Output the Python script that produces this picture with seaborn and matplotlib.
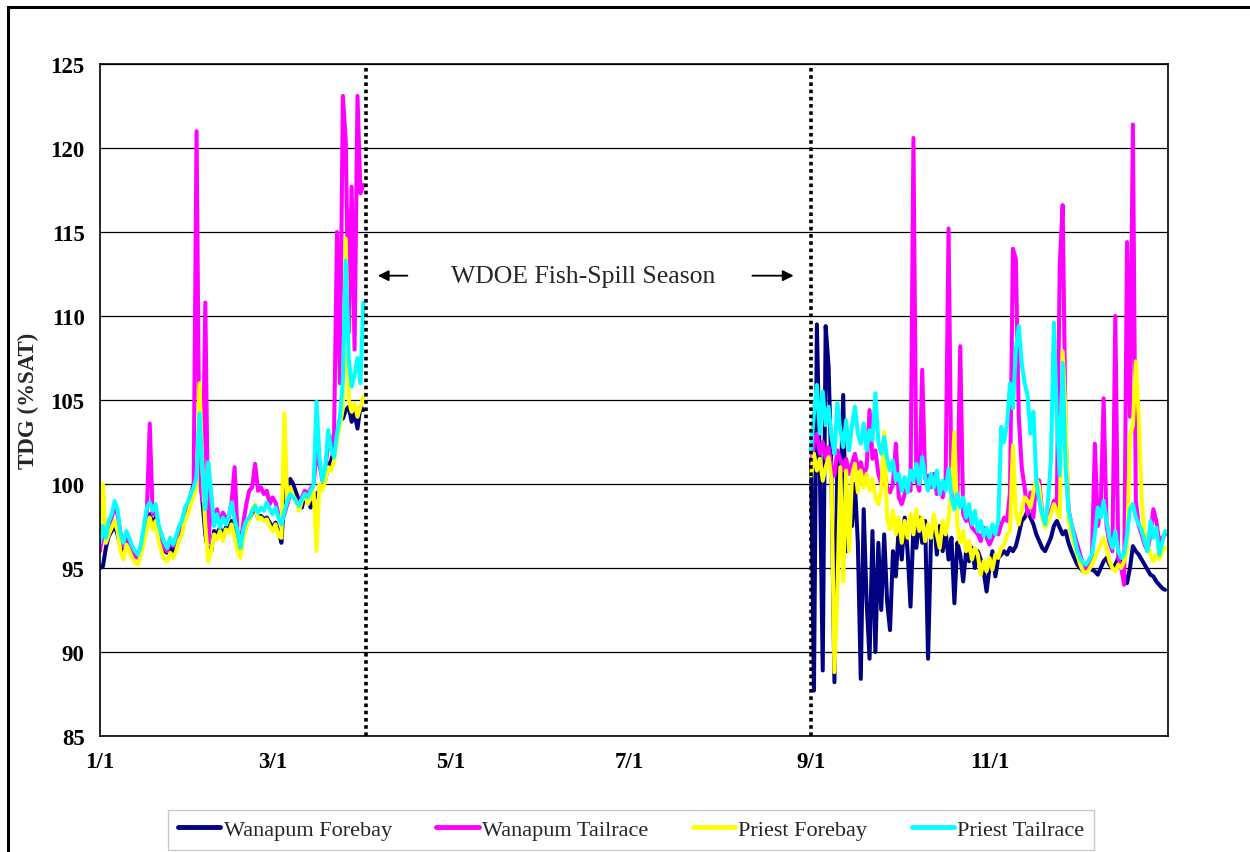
import matplotlib
matplotlib.use("Agg")
import matplotlib.pyplot as plt
import matplotlib.dates as mdates
from matplotlib.patches import Rectangle
import pandas as pd
import seaborn as sns

# ---------------------------------------------------------------- data
sites = ["Wanapum Forebay", "Wanapum Tailrace", "Priest Forebay", "Priest Tailrace"]
site_colors = ["#000080", "#FF00FF", "#FFFF00", "#00FFFF"]

winter_start = "2005-01-01"   # daily values, Jan 1 - Apr 1
fall_start = "2005-09-01"     # daily values, Sep 1 - Dec 31

wanapum_fb_winter = [
    95.0, 95.1, 96.2, 96.9, 97.2, 97.5, 97.0, 96.3, 96.0, 96.6,
    96.3, 96.0, 95.8, 95.7, 96.0, 96.8, 97.6, 98.2, 97.6, 98.0,
    97.0, 96.5, 96.0, 95.9, 96.3, 96.0, 96.4, 97.0, 97.4, 98.3,
    98.8, 99.3, 100.0, 100.2, 101.0, 99.0, 97.0, 96.0, 96.0, 97.2,
    97.0, 97.4, 96.9, 97.4, 97.3, 97.8, 97.2, 96.3, 95.8, 97.0,
    97.5, 97.9, 98.3, 98.6, 98.0, 98.1, 97.9, 98.0, 97.7, 97.4,
    97.7, 97.2, 96.5, 99.5, 99.8, 100.3, 100.0, 99.5, 99.0, 98.6,
    99.4, 99.0, 98.6, 99.0, 99.4, 99.6, 99.8, 100.3, 101.0, 101.4,
    102.0, 102.8, 103.8, 103.9, 104.4, 104.6, 103.7, 104.2, 103.3, 104.6,
    104.4,
]
wanapum_tr_winter = [
    96.0, 97.3, 96.5, 97.5, 98.0, 98.6, 98.2, 97.1, 96.3, 96.9,
    96.6, 96.0, 95.7, 95.6, 96.2, 97.2, 98.3, 103.6, 98.2, 98.5,
    97.3, 96.8, 96.2, 96.0, 96.6, 96.3, 96.7, 97.3, 97.7, 98.4,
    98.8, 99.2, 99.8, 121.0, 100.5, 99.0, 110.8, 96.5, 98.8, 97.8,
    98.5, 97.6, 98.3, 98.0, 98.0, 99.0, 101.0, 97.0, 96.4, 97.7,
    98.8, 99.6, 99.8, 101.2, 99.6, 99.8, 99.4, 99.6, 98.8, 99.2,
    98.9, 98.2, 97.7, 98.2, 98.8, 99.4, 99.3, 99.0, 98.8, 99.2,
    99.6, 99.4, 99.7, 100.0, 101.8, 101.2, 100.2, 100.9, 102.5, 102.3,
    103.0, 115.0, 106.0, 123.1, 120.4, 109.0, 117.7, 108.0, 123.1, 117.3,
    117.8,
]
priest_fb_winter = [
    97.5, 100.0, 96.5, 97.0, 97.4, 97.8, 97.2, 96.0, 95.5, 96.4,
    96.0, 95.6, 95.3, 95.2, 95.8, 96.5, 97.3, 98.0, 97.3, 97.8,
    96.6, 96.0, 95.5, 95.4, 95.9, 95.6, 96.0, 96.6, 97.0, 97.8,
    98.2, 98.8, 99.2, 99.8, 106.0, 101.0, 97.5, 95.4, 96.0, 97.0,
    96.7, 97.2, 96.6, 97.3, 97.1, 97.6, 96.8, 96.0, 95.6, 96.8,
    97.5, 97.8, 98.5, 98.8, 97.9, 98.0, 97.8, 97.9, 97.5, 97.2,
    97.6, 96.9, 96.8, 104.2, 99.0, 99.8, 99.3, 99.0, 98.4, 99.0,
    99.4, 98.8, 99.2, 99.6, 96.0, 100.0, 99.6, 100.2, 101.0, 100.8,
    101.4, 102.6, 103.5, 104.5, 114.6, 105.0, 104.3, 104.8, 104.0, 104.6,
    105.2,
]
priest_tr_winter = [
    96.5, 97.5, 96.8, 97.8, 98.2, 99.0, 98.5, 97.0, 96.5, 97.2,
    96.8, 96.3, 96.0, 95.8, 96.4, 97.5, 98.6, 98.9, 98.4, 98.8,
    97.6, 97.0, 96.5, 96.2, 96.8, 96.4, 96.9, 97.5, 97.8, 98.6,
    98.9, 99.4, 99.8, 100.4, 104.2, 100.8, 98.5, 101.3, 99.5, 97.5,
    98.2, 97.4, 98.0, 97.6, 98.1, 98.9, 97.9, 97.2, 96.2, 97.3,
    97.8, 98.0, 98.4, 98.7, 98.3, 98.6, 98.4, 98.9, 98.5, 98.2,
    98.6, 98.0, 97.6, 98.3, 99.0, 99.4, 99.2, 99.0, 98.7, 99.1,
    99.4, 99.2, 99.6, 99.9, 104.9, 101.5, 100.2, 101.0, 103.2, 102.0,
    101.6, 103.0, 104.0, 106.2, 113.3, 107.5, 105.8, 106.5, 107.5, 106.0,
    110.8,
]

wanapum_fb_fall = [
    101.5, 87.7, 109.5, 101.0, 88.9, 109.4, 107.0, 100.5, 88.2, 101.5,
    99.0, 105.3, 96.0, 99.0, 97.5, 100.0, 96.5, 88.4, 98.5, 93.0,
    89.6, 97.2, 90.0, 96.5, 92.5, 97.0, 93.0, 91.3, 96.0, 94.5,
    97.5, 95.5, 98.0, 96.0, 92.7, 97.5, 96.2, 98.0, 96.5, 97.8,
    89.6, 96.8, 98.0, 95.8, 97.5, 96.0, 97.2, 95.5, 96.8, 92.9,
    96.5, 95.8, 94.2, 96.0, 95.4, 96.2, 95.0, 96.0, 95.5, 94.8,
    93.6, 95.0, 96.0, 94.5, 95.6, 95.8, 96.0, 95.8, 96.2, 96.0,
    96.3, 97.0, 97.8, 98.0, 98.4, 98.0, 97.6, 97.0, 96.6, 96.2,
    96.0, 96.4, 96.8, 97.5, 97.8, 97.4, 97.0, 97.2, 96.5, 96.0,
    95.6, 95.2, 95.0, 94.8, 94.8, 95.0, 94.9, 94.8, 94.6, 95.0,
    95.4, 95.6, 95.2, 95.0, 95.2, 95.6, 95.4, 94.6, 94.1, 95.0,
    96.3, 96.0, 95.8, 95.5, 95.2, 94.9, 94.6, 94.5, 94.2, 94.0,
    93.8, 93.7,
]
wanapum_tr_fall = [
    101.0, 102.5, 103.0, 101.8, 102.5, 101.5, 102.2, 101.0, 100.5, 102.0,
    101.5, 100.8, 101.5, 100.6, 101.2, 101.8, 100.9, 101.3, 100.5, 101.0,
    104.4, 101.5, 102.0, 100.6, 100.0, 100.8, 99.8, 99.5, 100.0, 102.4,
    99.2, 98.8, 99.4, 100.0, 99.6, 120.6, 100.2, 99.6, 106.8, 100.3,
    100.5, 99.8, 100.6, 99.4, 100.0, 99.2, 100.2, 115.2, 99.5, 98.6,
    99.0, 108.2, 98.2, 97.8, 98.0, 97.4, 97.2, 97.0, 96.6, 97.4,
    96.8, 96.4, 96.8, 97.2, 97.0, 97.6, 98.0, 97.8, 99.5, 114.0,
    113.4, 104.0, 101.0, 99.8, 98.2, 99.5, 98.0, 100.3, 100.2, 98.2,
    97.6, 98.0, 98.4, 99.0, 98.6, 113.0, 116.6, 103.0, 98.5, 97.6,
    97.0, 96.4, 95.8, 95.2, 95.0, 95.4, 95.6, 102.4, 97.5, 98.5,
    105.1, 97.5, 96.5, 96.0, 110.0, 95.6, 95.0, 94.0, 114.4, 104.0,
    121.4, 99.0, 97.5, 97.0, 96.4, 96.0, 97.0, 98.5, 97.8, 96.5,
    96.8, 97.0,
]
priest_fb_fall = [
    100.5, 101.8, 100.8, 101.5, 100.2, 101.0, 101.6, 100.2, 88.8, 93.5,
    101.0, 94.2, 100.8, 96.0, 100.5, 101.2, 99.5, 100.8, 99.8, 100.6,
    99.6, 100.3, 99.2, 98.8, 99.6, 103.1, 98.0, 97.3, 98.4, 97.0,
    98.0, 96.5, 97.8, 96.8, 98.2, 97.0, 98.5, 97.2, 98.0, 96.6,
    97.6, 96.8, 98.2, 97.0, 96.2, 97.8, 97.0, 98.0, 99.5, 103.1,
    97.5, 96.5, 97.2, 96.0, 96.6, 95.5, 96.2, 95.8, 94.6, 95.4,
    94.8, 95.6, 94.9, 95.8, 95.6, 96.2, 96.4, 97.0, 97.2, 102.3,
    98.2, 97.6, 98.5, 99.2, 99.0, 98.6, 99.5, 100.3, 99.8, 98.0,
    97.4, 97.8, 98.2, 98.8, 98.4, 98.0, 107.9, 104.0, 97.8, 97.0,
    96.4, 95.8, 95.2, 94.8, 94.7, 94.9, 95.2, 95.6, 96.0, 96.4,
    96.8, 96.2, 95.4, 95.0, 94.8, 95.2, 95.0, 95.4, 96.0, 102.9,
    103.5, 107.3, 104.0, 99.0, 97.0, 96.5, 95.8, 95.4, 95.8, 95.5,
    96.0, 96.2,
]
priest_tr_fall = [
    102.0, 104.2, 105.9, 103.0, 105.5, 103.5, 104.6, 102.8, 101.8, 104.8,
    103.2, 102.2, 103.8, 102.0, 103.5, 104.6, 103.0, 102.4, 103.6, 102.0,
    103.2, 102.6, 105.4, 102.5, 101.8, 102.8, 101.5, 100.8, 101.4, 100.2,
    100.6, 99.6, 100.4, 99.5, 100.8, 100.2, 101.2, 100.0, 101.6, 100.4,
    99.6, 100.6, 99.8, 100.8, 99.4, 100.2, 99.6, 100.9, 99.2, 98.5,
    99.4, 98.6, 99.2, 98.0, 98.8, 97.6, 98.4, 97.2, 97.8, 96.9,
    97.4, 96.8, 97.6, 97.0, 97.8, 103.4, 102.5, 103.6, 106.0, 104.5,
    108.0, 109.4, 107.2, 106.0, 105.3, 103.0, 104.3, 100.2, 99.0, 98.2,
    97.6, 99.0, 101.5, 109.6, 104.0, 100.5, 107.2, 101.0, 98.4, 97.6,
    96.8, 96.0, 95.6, 95.3, 95.2, 95.5, 95.8, 97.0, 98.6, 98.0,
    99.0, 97.8, 96.8, 96.2, 97.2, 96.0, 95.6, 95.8, 97.0, 98.5,
    98.8, 98.0, 97.6, 97.2, 96.6, 96.0, 97.8, 96.8, 97.4, 95.8,
    96.5, 97.2,
]

winter_series = [wanapum_fb_winter, wanapum_tr_winter, priest_fb_winter, priest_tr_winter]
fall_series = [wanapum_fb_fall, wanapum_tr_fall, priest_fb_fall, priest_tr_fall]

y_ticks = [85, 90, 95, 100, 105, 110, 115, 120, 125]
x_tick_dates = ["2005-01-01", "2005-03-01", "2005-05-01", "2005-07-01",
                "2005-09-01", "2005-11-01", "2006-01-01"]
x_tick_labels = ["1/1", "3/1", "5/1", "7/1", "9/1", "11/1", ""]
season_bounds = ["2005-04-02", "2005-09-01"]

# ------------------------------------------------------- long table
frames = []
for site, w, f in zip(sites, winter_series, fall_series):
    frames.append(pd.DataFrame({
        "date": pd.date_range(winter_start, periods=len(w), freq="D"),
        "tdg": w, "site": site, "segment": "winter"}))
    frames.append(pd.DataFrame({
        "date": pd.date_range(fall_start, periods=len(f), freq="D"),
        "tdg": f, "site": site, "segment": "fall"}))
df = pd.concat(frames, ignore_index=True)

# ---------------------------------------------------------- drawing
sns.set_theme(style="white")
plt.rcParams["font.family"] = ["Liberation Serif", "DejaVu Serif"]

fig, ax = plt.subplots(figsize=(12.5, 8.53), dpi=100)
fig.subplots_adjust(left=0.08, right=0.9344, top=0.9238, bottom=0.136)

sns.lineplot(data=df, x="date", y="tdg", hue="site", hue_order=sites,
             palette=site_colors, units="segment", estimator=None,
             linewidth=2.9, ax=ax)

handles, labels = ax.get_legend_handles_labels()
ax.get_legend().remove()

ax.set_xlim(pd.Timestamp("2005-01-01"), pd.Timestamp("2006-01-01"))
ax.set_ylim(85, 125)
ax.set_yticks(y_ticks)
ax.set_xticks([pd.Timestamp(d) for d in x_tick_dates])
ax.set_xticklabels(x_tick_labels)
ax.yaxis.grid(True, color="black", linewidth=0.9)
ax.xaxis.grid(False)
ax.set_axisbelow(True)

for sp in ax.spines.values():
    sp.set_color("black")
    sp.set_linewidth(1.2)
ax.tick_params(axis="both", direction="out", length=5, width=1.2,
               color="black", labelsize=16.5, labelcolor="black", pad=6)
for lab in ax.get_xticklabels() + ax.get_yticklabels():
    lab.set_fontweight("bold")

ax.set_xlabel("")
ax.set_ylabel("TDG (%SAT)", fontsize=16.5, fontweight="bold", labelpad=8)

# fish-spill season bounds
for d in season_bounds:
    ax.axvline(pd.Timestamp(d), color="black", linewidth=2.6,
               linestyle=(0, (1, 1)), zorder=5)

y_note = 112.4
ax.text(mdates.date2num(pd.Timestamp("2005-06-15")), y_note,
        "WDOE Fish-Spill Season", ha="center", va="center", fontsize=18.5)
arrow = dict(arrowstyle="-|>", color="black", lw=1.3, mutation_scale=16)
ax.annotate("", xy=(mdates.date2num(pd.Timestamp("2005-04-05")), y_note),
            xytext=(mdates.date2num(pd.Timestamp("2005-04-17")), y_note),
            arrowprops=arrow)
ax.annotate("", xy=(mdates.date2num(pd.Timestamp("2005-08-27")), y_note),
            xytext=(mdates.date2num(pd.Timestamp("2005-08-11")), y_note),
            arrowprops=arrow)

for h in handles:
    h.set_linewidth(3.5)
fig.legend(handles, labels, loc="center", bbox_to_anchor=(0.505, 0.026),
           ncol=4, frameon=True, fancybox=False, fontsize=16,
           handlelength=1.9, handletextpad=0.15, columnspacing=2.0,
           edgecolor="#bdbdbd", borderpad=0.45)

# outer chart frame
fig.patches.append(Rectangle((0.0064, -0.05), 1.2, 0.9906 + 0.05,
                             transform=fig.transFigure, fill=False,
                             linewidth=2.2, edgecolor="black"))

fig.savefig("out.png", dpi=100)
